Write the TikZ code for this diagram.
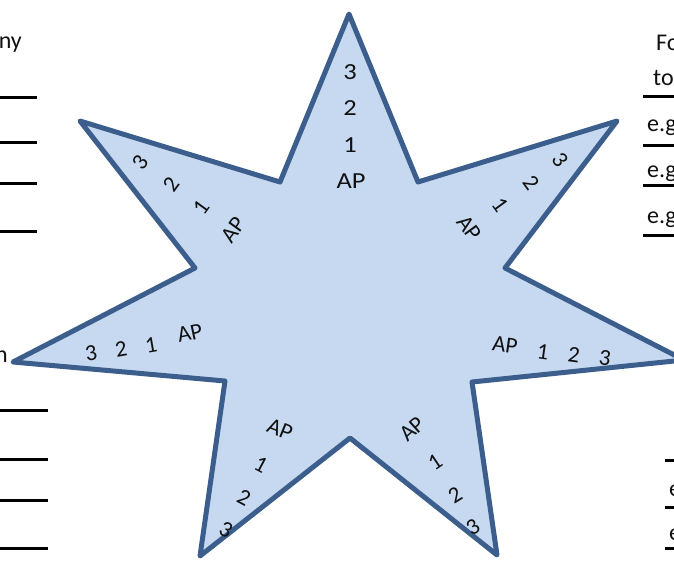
\documentclass[tikz,border=0pt]{standalone}
\usepackage{fontspec}
\setmainfont{Carlito}
\definecolor{starfill}{HTML}{C6D9F1}
\definecolor{starline}{HTML}{3B5E8C}
\definecolor{ink}{HTML}{111111}
\begin{document}
\begin{tikzpicture}[x=1pt,y=-1pt,
  glyph/.style={font=\fontsize{23}{23}\selectfont, inner sep=0pt, text=ink},
  side/.style={font=\fontsize{24}{24}\selectfont, inner sep=0pt, text=ink},
  rule/.style={line width=3pt, black}]
\useasboundingbox (0,0) rectangle (674,560);
\clip (0,0) rectangle (674,560);
% star
\draw[fill=starfill, draw=starline, line width=5pt, line join=round]
  (349,14) -- (418,182) -- (617,121) -- (505,268) -- (684,360) -- (472,382)
  -- (497,555) -- (350,438) -- (200,556) -- (225,381) -- (13,362)
  -- (195,268) -- (80,121) -- (280,182) -- cycle;
% top spike
\node[glyph, xscale=1.15] (t3) at (350,72) {3};
\node[glyph, xscale=1.15] (t2) at (350,108) {2};
\node[glyph, xscale=1.15] (t1) at (350,145) {1};
\node[glyph, xscale=1.15] (tap) at (351,181) {AP};
% upper left spike
\node[glyph, rotate=54] (ul3) at (140,162) {3};
\node[glyph, rotate=54] (ul2) at (171,184) {2};
\node[glyph, rotate=54] (ul1) at (201,207) {1};
\node[glyph, rotate=54] (ulap) at (233,230) {AP};
% upper right spike
\node[glyph, rotate=-54] (ur3) at (560,160) {3};
\node[glyph, rotate=-54] (ur2) at (531,183) {2};
\node[glyph, rotate=-54] (ur1) at (500,205) {1};
\node[glyph, rotate=-54] (urap) at (469,228) {AP};
% left spike
\node[glyph, rotate=10] (l3) at (91,353) {3};
\node[glyph, rotate=10] (l2) at (121,349) {2};
\node[glyph, rotate=10] (l1) at (151,345) {1};
\node[glyph, rotate=12] (lap) at (190,333) {AP};
% right spike
\node[glyph, rotate=-8] (rap) at (505,345) {AP};
\node[glyph, rotate=-8] (r1) at (543,352) {1};
\node[glyph, rotate=-8] (r2) at (574,355) {2};
\node[glyph, rotate=-8] (r3) at (605,358) {3};
% bottom left spike
\node[glyph, rotate=-22] (blap) at (280,429) {AP};
\node[glyph, rotate=-28] (bl1) at (261,465) {1};
\node[glyph, rotate=-28] (bl2) at (244,498) {2};
\node[glyph, rotate=-28] (bl3) at (226,530) {3};
% bottom right spike
\node[glyph, rotate=42] (brap) at (412,429) {AP};
\node[glyph, rotate=34] (br1) at (435,462) {1};
\node[glyph, rotate=32] (br2) at (455,495) {2};
\node[glyph, rotate=32] (br3) at (473,527) {3};
% left margin text and rules
\node[side, anchor=base east] (lny) at (22,48) {ny};
\node[side, anchor=base east] (ln) at (8,362) {n};
\draw[rule] (0,97) -- (37,97);
\draw[rule] (0,142) -- (37,142);
\draw[rule] (0,183) -- (37,183);
\draw[rule] (0,231) -- (37,231);
\draw[rule] (0,410) -- (48,410);
\draw[rule] (0,459) -- (48,459);
\draw[rule] (0,500) -- (48,500);
\draw[rule] (0,548) -- (48,548);
% right margin text and rules
\node[side, anchor=base west] (rfo) at (656,50) {Fo};
\node[side, anchor=base west] (rto) at (653,85) {to};
\node[side, anchor=base west] (reg1) at (647,131) {e.g};
\node[side, anchor=base west] (reg2) at (647,177) {e.g};
\node[side, anchor=base west] (reg3) at (647,223) {e.g};
\node[side, anchor=base west] (reg4) at (669,496) {e.g};
\node[side, anchor=base west] (reg5) at (669,540) {e.g};
\draw[rule] (643,96) -- (674,96);
\draw[rule] (643,145) -- (674,145);
\draw[rule] (643,185) -- (674,185);
\draw[rule] (643,235) -- (674,235);
\draw[rule] (665,460) -- (674,460);
\draw[rule] (665,507) -- (674,507);
\draw[rule] (665,548) -- (674,548);
\end{tikzpicture}
\end{document}
